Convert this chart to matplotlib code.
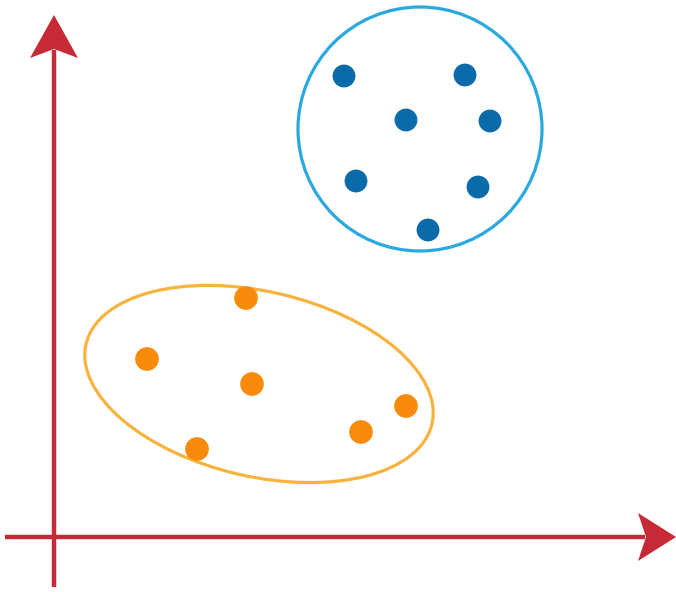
import matplotlib
matplotlib.use("Agg")
import matplotlib.pyplot as plt
from matplotlib.patches import Ellipse, Circle, Polygon

# 两个聚类的点（像素坐标）
blue_x = [344, 465, 406, 490, 356, 478, 428]
blue_y = [76, 75, 120, 121, 181, 187, 230]
orange_x = [246, 147, 252, 406, 361, 197]
orange_y = [298, 359, 384, 406, 432, 449]

AXIS_RED = "#c62a36"
BLUE_DOT = "#0a6aaa"
BLUE_RING = "#2aa8e0"
ORANGE_DOT = "#f88b0c"
ORANGE_RING = "#f8b33e"

W, H = 676, 592
fig = plt.figure(figsize=(W / 100, H / 100), dpi=100)
ax = fig.add_axes([0, 0, 1, 1])
ax.set_xlim(0, W)
ax.set_ylim(H, 0)
ax.set_aspect("equal")
ax.axis("off")

# 坐标轴
ax.plot([54, 54], [587, 50], color=AXIS_RED, linewidth=3.2, solid_capstyle="butt")
ax.plot([5, 645], [537, 537], color=AXIS_RED, linewidth=3.2, solid_capstyle="butt")
ax.add_patch(Polygon([(54, 15), (78, 58), (54, 49), (30, 58)], closed=True,
                     facecolor=AXIS_RED, edgecolor="none"))
ax.add_patch(Polygon([(676, 537), (638, 513), (646, 537), (638, 561)], closed=True,
                     facecolor=AXIS_RED, edgecolor="none"))

# 聚类边界
ax.add_patch(Circle((420, 129), 122, facecolor="none", edgecolor=BLUE_RING, linewidth=2.3))
ax.add_patch(Ellipse((259, 384), 355, 185, angle=13, facecolor="none",
                     edgecolor=ORANGE_RING, linewidth=2.3))

# 点
ax.scatter(blue_x, blue_y, s=270, color=BLUE_DOT, edgecolors="none", zorder=3)
ax.scatter(orange_x, orange_y, s=290, color=ORANGE_DOT, edgecolors="none", zorder=3)

fig.savefig("out.png", dpi=100, facecolor="white")
plt.close(fig)
